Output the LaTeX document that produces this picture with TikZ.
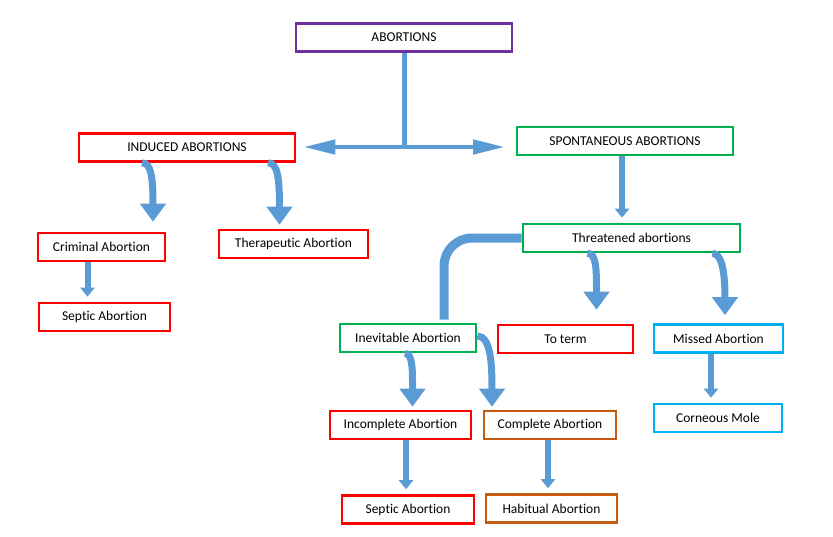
\documentclass[tikz,border=0pt]{standalone}
\usepackage{fontspec}
\setmainfont{Carlito}[Ligatures=CommonOff]
\usetikzlibrary{arrows.meta}
\definecolor{plum}{RGB}{112,48,160}
\definecolor{redbox}{RGB}{255,0,0}
\definecolor{greenbox}{RGB}{0,176,80}
\definecolor{rust}{RGB}{197,90,17}
\definecolor{sky}{RGB}{0,176,240}
\definecolor{flowblue}{RGB}{91,155,213}
\tikzset{
  box/.style={draw,line width=2.6pt,fill=white,minimum height=28pt,inner sep=0pt},
  bigflow/.style={draw=flowblue,line width=7pt,-{Triangle[width=25pt,length=18pt]}},
  smallflow/.style={draw=flowblue,line width=6pt,-{Triangle[width=14pt,length=9pt]}},
  trunk/.style={draw=flowblue,line width=5pt},
}

\begin{document}
\begin{tikzpicture}[x=1pt,y=-1pt,every node/.style={font=\fontsize{13.5}{16}\selectfont}]
  \useasboundingbox (0,0) rectangle (833,536);
  \node[box,draw=plum,minimum width=216pt] (abort) at (404,37.5) {ABORTIONS};
  \node[box,draw=redbox,minimum width=216pt] (induced) at (187,147.5) {INDUCED ABORTIONS};
  \node[box,draw=greenbox,minimum width=216pt] (spont) at (625,141) {SPONTANEOUS ABORTIONS};
  \node[box,draw=redbox,minimum width=127pt] (criminal) at (101.5,247) {Criminal Abortion};
  \node[box,draw=redbox,minimum width=149pt] (thera) at (293.5,244) {Therapeutic Abortion};
  \node[box,draw=redbox,minimum width=131pt] (septicA) at (104.5,317) {Septic Abortion};
  \node[box,draw=greenbox,minimum width=217pt] (threat) at (631.5,238) {Threatened abortions};
  \node[box,draw=greenbox,minimum width=136pt] (inevit) at (408,338) {Inevitable Abortion};
  \node[box,draw=redbox,minimum width=135pt] (toterm) at (565.5,339) {To term};
  \node[box,draw=sky,minimum width=129pt] (missed) at (718.5,338.5) {Missed Abortion};
  \node[box,draw=redbox,minimum width=141pt] (incomp) at (400.5,425) {Incomplete Abortion};
  \node[box,draw=rust,minimum width=132pt] (compl) at (550,425) {Complete Abortion};
  \node[box,draw=sky,minimum width=128pt] (corneous) at (718,418) {Corneous Mole};
  \node[box,draw=redbox,minimum width=132pt] (septicB) at (408,509.5) {Septic Abortion};
  \node[box,draw=rust,minimum width=131pt] (habit) at (551.5,508.5) {Habitual Abortion};
  % top split
  \coordinate (hub) at (abort.south |- 0,147);
  \draw[trunk] (abort.south) -- (hub);
  \draw[draw=flowblue,line width=4.5pt,{Triangle[width=14pt,length=32pt]}-{Triangle[width=14pt,length=32pt]}]
    ([xshift=7pt]induced.east |- hub) -- (hub -| 505,0);
  % induced branch
  \draw[bigflow] ([xshift=-45pt]induced.south) .. controls +(9,0) and +(0,-45) .. ([xshift=51.5pt,yshift=10pt]criminal.north);
  \draw[bigflow] ([xshift=81pt]induced.south) .. controls +(10,0) and +(0,-45) .. ([xshift=-14pt,yshift=4pt]thera.north);
  \draw[smallflow] ([xshift=-14pt]criminal.south) -- ([xshift=-17pt,yshift=5pt]septicA.north);
  % spontaneous branch
  \draw[smallflow] ([xshift=-3pt]spont.south) -- ([xshift=-9.5pt,yshift=5pt]threat.north);
  \draw[draw=flowblue,line width=9pt,rounded corners=28pt] (threat.west) -| ([xshift=36pt,yshift=3pt]inevit.north);
  \draw[bigflow] ([xshift=-44pt]threat.south) .. controls +(9,0) and +(0,-40) .. ([xshift=31pt,yshift=14pt]toterm.north);
  \draw[bigflow] ([xshift=81pt]threat.south) .. controls +(10,0) and +(0,-40) .. ([xshift=6.5pt,yshift=8pt]missed.north);
  \draw[smallflow] ([xshift=-7.5pt]missed.south) -- ([xshift=-7pt,yshift=5pt]corneous.north);
  % inevitable branch
  \draw[bigflow] ([xshift=-3pt]inevit.south) .. controls +(8,0) and +(0,-35) .. ([xshift=12pt,yshift=3pt]incomp.north);
  \draw[bigflow] ([yshift=2pt]inevit.east) .. controls +(14,0) and +(0,-40) .. ([xshift=-58pt,yshift=3pt]compl.north);
  \draw[smallflow] ([xshift=5.5pt]incomp.south) -- ([xshift=-2pt,yshift=5pt]septicB.north);
  \draw[smallflow] ([xshift=-2pt]compl.south) -- ([xshift=-3.5pt,yshift=5pt]habit.north);
\end{tikzpicture}
\end{document}
